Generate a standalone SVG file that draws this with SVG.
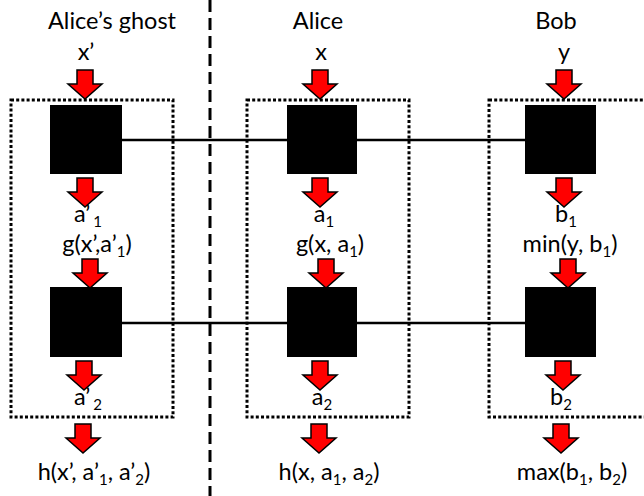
<svg xmlns="http://www.w3.org/2000/svg" width="644" height="496" viewBox="0 0 644 496">
<style>
text{font-family:Lato,"Liberation Sans",sans-serif;font-size:23.5px;fill:#000;text-anchor:middle}
.sub{font-size:15px}
.box{fill:none;stroke:#000;stroke-width:3;stroke-dasharray:3 2.2}
.sq{fill:#000}
.link{stroke:#000;stroke-width:2.5;fill:none}
.div{stroke:#000;stroke-width:3;stroke-dasharray:12 6;fill:none}
.arr{fill:#ff0000;stroke:#000;stroke-width:1.5;stroke-linejoin:miter}
</style>
<defs>
<path id="a" class="arr" d="M-8,0 H8 V14 H17 L0,29 L-17,14 H-8 Z"/>
</defs>
<g id="connectors">
<line class="div" x1="210" y1="0" x2="210" y2="496"/>
<line class="link" x1="122" y1="140" x2="525" y2="140"/>
<line class="link" x1="122" y1="323" x2="525" y2="323"/>
</g>
<g id="ghost">
<rect class="box" x="11" y="100" width="162" height="317"/>
<text x="112" y="29">Alice’s ghost</text>
<text x="86" y="60">x’</text>
<use href="#a" x="85" y="70"/>
<rect id="ghost-p1" class="sq" x="50" y="105" width="72" height="69"/>
<use href="#a" x="85" y="178"/>
<text x="88" y="222">a’<tspan class="sub" dx="3" dy="5">1</tspan></text>
<text x="97" y="252">g(x’,a’<tspan class="sub" dy="5">1</tspan><tspan dy="-5">)</tspan></text>
<use href="#a" x="90" y="259"/>
<rect id="ghost-p2" class="sq" x="50" y="287" width="72" height="70"/>
<use href="#a" x="84" y="361"/>
<text x="88" y="405">a’<tspan class="sub" dx="3" dy="5">2</tspan></text>
<use href="#a" x="83" y="424"/>
<text x="94" y="480">h(x’, a’<tspan class="sub" dy="5">1</tspan><tspan dy="-5">, a’</tspan><tspan class="sub" dy="5">2</tspan><tspan dy="-5">)</tspan></text>
</g>
<g id="alice">
<rect class="box" x="247" y="100" width="162" height="317"/>
<text x="318" y="29">Alice</text>
<text x="321" y="60">x</text>
<use href="#a" x="320" y="70"/>
<rect id="alice-p1" class="sq" x="287" y="105" width="70" height="69"/>
<use href="#a" x="320" y="178"/>
<text x="324" y="222">a<tspan class="sub" dy="5">1</tspan></text>
<text x="330" y="252">g(x, a<tspan class="sub" dy="5">1</tspan><tspan dy="-5">)</tspan></text>
<use href="#a" x="326" y="259"/>
<rect id="alice-p2" class="sq" x="287" y="287" width="70" height="70"/>
<use href="#a" x="320" y="361"/>
<text x="322" y="405">a<tspan class="sub" dy="5">2</tspan></text>
<use href="#a" x="319" y="424"/>
<text x="329" y="480">h(x, a<tspan class="sub" dy="5">1</tspan><tspan dy="-5">, a</tspan><tspan class="sub" dy="5">2</tspan><tspan dy="-5">)</tspan></text>
</g>
<g id="bob">
<rect class="box" x="489" y="100" width="170" height="317"/>
<text x="556" y="29">Bob</text>
<text x="564" y="60">y</text>
<use href="#a" x="564" y="70"/>
<rect id="bob-p1" class="sq" x="525" y="105" width="71" height="69"/>
<use href="#a" x="564" y="178"/>
<text x="566" y="222">b<tspan class="sub" dy="5">1</tspan></text>
<text x="570" y="252">min(y, b<tspan class="sub" dy="5">1</tspan><tspan dy="-5">)</tspan></text>
<use href="#a" x="568" y="259"/>
<rect id="bob-p2" class="sq" x="525" y="287" width="71" height="70"/>
<use href="#a" x="563" y="361"/>
<text x="561" y="405">b<tspan class="sub" dy="5">2</tspan></text>
<use href="#a" x="561" y="424"/>
<text x="572" y="480">max(b<tspan class="sub" dy="5">1</tspan><tspan dy="-5">, b</tspan><tspan class="sub" dy="5">2</tspan><tspan dy="-5">)</tspan></text>
</g>
</svg>
